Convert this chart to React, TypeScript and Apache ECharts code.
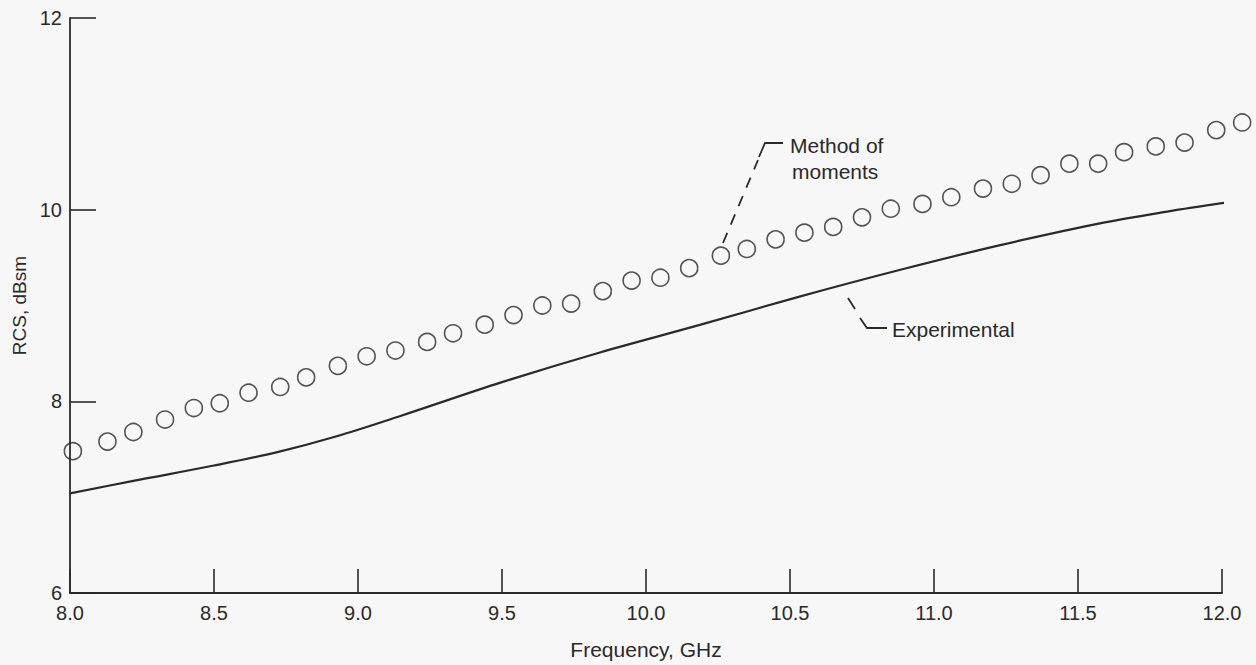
import React, { useEffect, useRef } from "react";
import * as echarts from "echarts";

// Method of moments (circles)
const momFreq = [8.01, 8.13, 8.22, 8.33, 8.43, 8.52, 8.62, 8.73, 8.82, 8.93, 9.03, 9.13, 9.24, 9.33, 9.44, 9.54, 9.64, 9.74, 9.85, 9.95, 10.05, 10.15, 10.26, 10.35, 10.45, 10.55, 10.65, 10.75, 10.85, 10.96, 11.06, 11.17, 11.27, 11.37, 11.47, 11.57, 11.66, 11.77, 11.87, 11.98, 12.07];
const momRcs = [7.48, 7.58, 7.68, 7.81, 7.93, 7.98, 8.09, 8.15, 8.25, 8.37, 8.47, 8.53, 8.62, 8.71, 8.8, 8.9, 9.0, 9.02, 9.15, 9.26, 9.29, 9.39, 9.52, 9.59, 9.69, 9.76, 9.82, 9.92, 10.01, 10.06, 10.13, 10.22, 10.27, 10.36, 10.48, 10.48, 10.6, 10.66, 10.7, 10.83, 10.91];

// Experimental (solid line)
const expFreq = [8.0, 8.22, 8.5, 8.72, 8.92, 9.15, 9.5, 9.84, 10.19, 10.53, 10.88, 11.23, 11.58, 11.81, 12.03];
const expRcs = [7.04, 7.17, 7.33, 7.47, 7.63, 7.85, 8.2, 8.51, 8.8, 9.09, 9.37, 9.63, 9.86, 9.98, 10.08];

const xTitle = "Frequency, GHz";
const yTitle = "RCS, dBsm";
const momLabel = ["Method of", "moments"];
const expLabel = "Experimental";

const INK = "#2a2a2a";
const FONT = "Liberation Sans, Arial, Helvetica, sans-serif";

export default function App() {
  const ref = useRef<HTMLDivElement>(null);
  useEffect(() => {
    if (!ref.current) return;
    const chart = echarts.init(ref.current, undefined, { renderer: "svg" });
    const mom = momFreq.map((f, i) => [f, momRcs[i]]);
    const exp = expFreq.map((f, i) => [f, expRcs[i]]);
    chart.setOption({
      animation: false,
      backgroundColor: "#f7f7f7",
      grid: { left: 70, right: 34, top: 18, bottom: 71 },
      xAxis: {
        type: "value",
        min: 8,
        max: 12,
        interval: 0.5,
        name: xTitle,
        nameLocation: "middle",
        nameGap: 46,
        nameTextStyle: { color: INK, fontSize: 21, fontFamily: FONT },
        axisLine: { show: true, lineStyle: { color: INK, width: 1.8 } },
        axisTick: { show: true, inside: true, length: 24, lineStyle: { color: INK, width: 1.6 } },
        axisLabel: {
          color: INK,
          fontSize: 20,
          fontFamily: FONT,
          margin: 10,
          formatter: (v: number) => v.toFixed(1),
        },
        splitLine: { show: false },
      },
      yAxis: {
        type: "value",
        min: 6,
        max: 12,
        interval: 2,
        name: yTitle,
        nameLocation: "middle",
        nameGap: 38,
        nameRotate: 90,
        nameTextStyle: { color: INK, fontSize: 19, fontFamily: FONT },
        axisLine: { show: true, lineStyle: { color: INK, width: 1.8 } },
        axisTick: { show: true, inside: true, length: 26, lineStyle: { color: INK, width: 1.6 } },
        axisLabel: { color: INK, fontSize: 20, fontFamily: FONT, margin: 8 },
        splitLine: { show: false },
      },
      series: [
        {
          type: "line",
          name: "Experimental",
          data: exp,
          smooth: 0.35,
          showSymbol: false,
          clip: false,
          lineStyle: { color: INK, width: 2.2 },
          z: 2,
        },
        {
          type: "scatter",
          name: "Method of moments",
          data: mom,
          symbol: "circle",
          symbolSize: 17,
          clip: false,
          itemStyle: { color: "rgba(0,0,0,0)", borderColor: INK, borderWidth: 1.6 },
          z: 3,
        },
      ],
      graphic: [
        {
          type: "polyline",
          shape: { points: [[723, 243], [758, 160]] },
          style: { stroke: INK, lineWidth: 1.8, lineDash: [11, 9], fill: null },
        },
        {
          type: "polyline",
          shape: { points: [[759, 157], [765, 143], [783, 143]] },
          style: { stroke: INK, lineWidth: 1.8, fill: null },
        },
        {
          type: "text",
          x: 790,
          y: 145,
          style: { text: momLabel[0], fill: INK, fontSize: 21, fontFamily: FONT, verticalAlign: "middle" },
        },
        {
          type: "text",
          x: 792,
          y: 171,
          style: { text: momLabel[1], fill: INK, fontSize: 21, fontFamily: FONT, verticalAlign: "middle" },
        },
        {
          type: "polyline",
          shape: { points: [[848, 298], [855, 309]] },
          style: { stroke: INK, lineWidth: 1.8, fill: null },
        },
        {
          type: "polyline",
          shape: { points: [[860, 318], [867, 328], [887, 328]] },
          style: { stroke: INK, lineWidth: 1.8, fill: null },
        },
        {
          type: "text",
          x: 892,
          y: 329,
          style: { text: expLabel, fill: INK, fontSize: 21, fontFamily: FONT, verticalAlign: "middle" },
        },
      ],
    });
    return () => chart.dispose();
  }, []);
  return (
    <div
      ref={ref}
      style={{ position: "fixed", left: 0, top: 0, width: 1256, height: 665 }}
    />
  );
}
